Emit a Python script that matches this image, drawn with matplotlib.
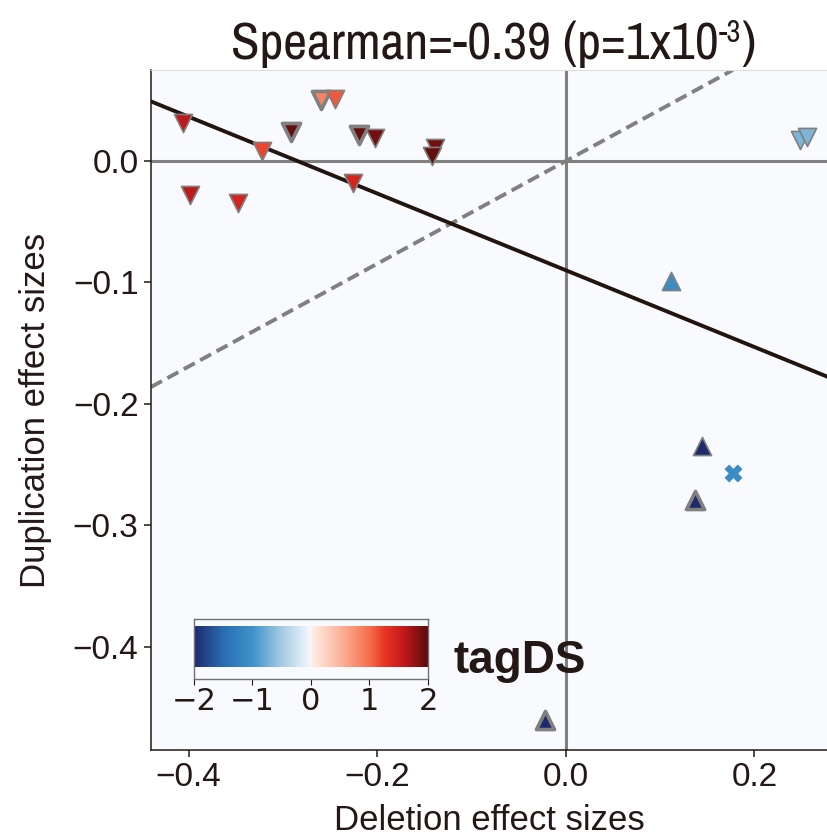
import matplotlib
matplotlib.use("Agg")
import matplotlib.pyplot as plt
from matplotlib.colors import LinearSegmentedColormap
import numpy as np

# ---------------- data ----------------
del_eff = [-0.406, -0.399, -0.348, -0.322, -0.292, -0.260, -0.245, -0.226, -0.219,
           -0.202, -0.139, -0.142, 0.248, 0.256, 0.111, 0.144, 0.177, 0.137, -0.022]
dup_eff = [0.031, -0.028, -0.035, 0.008, 0.024, 0.050, 0.051, -0.018, 0.021,
           0.019, 0.011, 0.004, 0.017, 0.020, -0.099, -0.235, -0.257, -0.279, -0.460]
tag_ds = [1.6, 1.6, 1.45, 1.2, 1.95, 0.85, 1.1, 1.45, 1.95,
          1.9, 1.9, 1.95, -0.7, -0.7, -1.1, -2.0, -1.1, -2.0, -2.0]
direction = ['down'] * 14 + ['up', 'up', 'mixed', 'up', 'up']
highlight = [False, False, False, False, True, True, False, False, True,
             False, False, False, False, False, False, False, False, True, True]

fit_slope, fit_intercept = -0.316, -0.090
ref_slope, ref_intercept = 0.423, 0.0
cbar_ticks = [-2, -1, 0, 1, 2]
cbar_labels = ['\u22122', '\u22121', '0', '1', '2']
x_ticks = [-0.4, -0.2, 0.0, 0.2]
x_labels = ['\u22120.4', '\u22120.2', '0.0', '0.2']
y_ticks = [0.0, -0.1, -0.2, -0.3, -0.4]
y_labels = ['0.0', '\u22120.1', '\u22120.2', '\u22120.3', '\u22120.4']
title_main = 'Spearman=-0.39 (p=1x10'
title_exp = '-3'

# ---------------- style ----------------
TXT = '#231815'
BG = '#f8fafd'
plt.rcParams['font.family'] = ['Liberation Sans', 'DejaVu Sans']
TITLE_FONT = ['Archivo Narrow', 'Liberation Sans']

cmap = LinearSegmentedColormap.from_list('tag', [
    (0.0, '#1f2a6c'), (0.125, '#2a6db3'), (0.25, '#3f93c9'), (0.375, '#a6cbe4'),
    (0.5, '#f6fafe'), (0.5, '#fff1ea'), (0.625, '#fcb49c'), (0.75, '#f5704c'),
    (0.82, '#e83222'), (0.9, '#c0191b'), (1.0, '#5a0c0c')])

W, H = 828, 836
fig = plt.figure(figsize=(W / 100, H / 100), dpi=100)
fig.patch.set_facecolor('white')
L, T, R, B = 151, 70, 828, 750
ax = fig.add_axes([L / W, 1 - B / H, (R - L) / W, (B - T) / H])
ax.set_facecolor(BG)
ax.set_xlim(-0.44, 0.278)
ax.set_ylim(-0.485, 0.0749)

ax.axhline(0, color='#808080', lw=2.2, zorder=1)
ax.axvline(0, color='#808080', lw=2.2, zorder=1)
ax.axline((0, ref_intercept), slope=ref_slope, color='#808080', lw=2.8,
          dashes=(3.2, 1.6), zorder=2)
ax.axline((0, fit_intercept), slope=fit_slope, color='#221510', lw=2.8, zorder=3)

mk = {'down': 'v', 'up': '^', 'mixed': 'X'}
for x, y, t, d, h in zip(del_eff, dup_eff, tag_ds, direction, highlight):
    c = cmap((t + 2) / 4)
    if d == 'mixed':
        ax.scatter([x], [y], s=150, marker='X', c=[c], edgecolors=c, linewidths=0.5, zorder=4)
    else:
        ax.scatter([x], [y], s=170, marker=mk[d], c=[c],
                   edgecolors='#808080', linewidths=2.6 if h else 1.2, zorder=4)

ax.set_xticks(x_ticks)
ax.set_yticks(y_ticks)
ax.set_xticklabels(x_labels)
ax.set_yticklabels(y_labels)
ax.tick_params(labelsize=24, colors=TXT, length=5, width=1.1, direction='out', pad=4)
for s in ['left', 'bottom']:
    ax.spines[s].set_color(TXT)
    ax.spines[s].set_linewidth(1.1)
ax.spines['top'].set_color('#dddddd')
ax.spines['top'].set_linewidth(0.8)
ax.spines['right'].set_visible(False)
ax.set_xlabel('Deletion effect sizes', fontsize=25, color=TXT)
ax.set_ylabel('Duplication effect sizes', fontsize=25, color=TXT)
ax.xaxis.label.set_va('baseline')
ax.yaxis.label.set_va('baseline')
ax.xaxis.set_label_coords(0.5, (B - 830) / (B - T))
ax.yaxis.set_label_coords((45 - L) / (R - L), 0.5)

# title with superscript
fig.canvas.draw()
r = fig.canvas.get_renderer()
parts = [(title_main, 37.5, 0), (title_exp, 22, 17), (')', 37.5, 0)]
objs = [fig.text(0, 0, s, fontsize=fs, color=TXT, family=TITLE_FONT) for s, fs, dy in parts]
widths = [o.get_window_extent(r).width for o in objs]
x0 = 493 - sum(widths) / 2
base = 59
for o, w, (s, fs, dy) in zip(objs, widths, parts):
    o.set_position((x0 / W, 1 - (base - dy) / H))
    o.set_va('baseline')
    x0 += w

# colorbar
cax = fig.add_axes([194 / W, 1 - 679 / H, 234 / W, 60 / H])
cax.set_facecolor(BG)
grad = np.linspace(-2, 2, 512)[None, :]
cax.imshow(grad, cmap=cmap, vmin=-2, vmax=2, aspect='auto',
           extent=[-2, 2, 12 / 60, 53 / 60])
cax.set_xlim(-2, 2)
cax.set_ylim(0, 1)
cax.set_yticks([])
cax.set_xticks(cbar_ticks)
cax.set_xticklabels(cbar_labels, fontfamily='DejaVu Sans')
cax.tick_params(labelsize=22, colors=TXT, length=4, width=0.8, pad=2)
for s in cax.spines.values():
    s.set_color('#707070')
    s.set_linewidth(1.0)
fig.text(454 / W, 1 - 673 / H, 'tagDS', fontsize=33, fontweight='bold', color=TXT,
         family='Liberation Sans')

fig.savefig('out.png', dpi=100)
